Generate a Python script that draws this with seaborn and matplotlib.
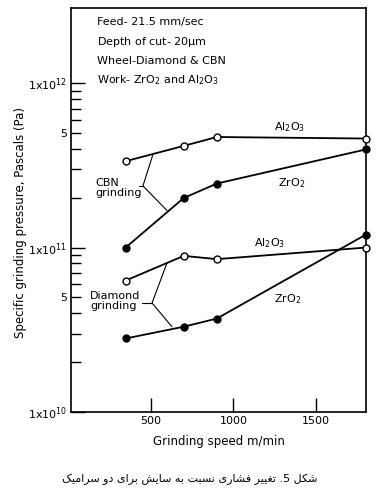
import matplotlib
matplotlib.use('Agg')
from matplotlib import pyplot as plt
from matplotlib.ticker import FixedLocator, FixedFormatter
import seaborn as sns
import pandas as pd

# Data
speed = [350, 700, 900, 1800]
cbn_al2o3 = [3.35e11, 4.15e11, 4.7e11, 4.6e11]
cbn_zro2 = [1.0e11, 2.0e11, 2.45e11, 3.95e11]
diamond_al2o3 = [6.3e10, 8.9e10, 8.5e10, 1.0e11]
diamond_zro2 = [2.8e10, 3.3e10, 3.7e10, 1.2e11]

y_major = [1e10, 1e11, 1e12]
y_major_labels = [r'$\mathregular{1x10^{10}}$', r'$\mathregular{1x10^{11}}$', r'$\mathregular{1x10^{12}}$']
y_minor = [2e10, 3e10, 4e10, 5e10, 6e10, 7e10, 8e10, 9e10,
           2e11, 3e11, 4e11, 5e11, 6e11, 7e11, 8e11, 9e11]
x_ticks = [500, 1000, 1500]

caption = 'شکل 5. تغییر فشاری نسبت به سایش برای دو سرامیک'

# presentation forms: isolated, final, initial, medial (None for right-joining)
FORMS = {
    'ا': ('\uFE8D', '\uFE8E', None, None),
    'د': ('\uFEA9', '\uFEAA', None, None),
    'ر': ('\uFEAD', '\uFEAE', None, None),
    'و': ('\uFEED', '\uFEEE', None, None),
    'ب': ('\uFE8F', '\uFE90', '\uFE91', '\uFE92'),
    'ت': ('\uFE95', '\uFE96', '\uFE97', '\uFE98'),
    'س': ('\uFEB1', '\uFEB2', '\uFEB3', '\uFEB4'),
    'ش': ('\uFEB5', '\uFEB6', '\uFEB7', '\uFEB8'),
    'غ': ('\uFECD', '\uFECE', '\uFECF', '\uFED0'),
    'ف': ('\uFED1', '\uFED2', '\uFED3', '\uFED4'),
    'ل': ('\uFEDD', '\uFEDE', '\uFEDF', '\uFEE0'),
    'م': ('\uFEE1', '\uFEE2', '\uFEE3', '\uFEE4'),
    'ن': ('\uFEE5', '\uFEE6', '\uFEE7', '\uFEE8'),
    'ه': ('\uFEE9', '\uFEEA', '\uFEEB', '\uFEEC'),
    'ی': ('\uFBFC', '\uFBFD', '\uFBFE', '\uFBFF'),
    'ک': ('\uFB8E', '\uFB8F', '\uFB90', '\uFB91'),
}


def shape_rtl(text):
    # simple Persian shaping + reversal, matplotlib has no bidi support
    out = []
    for i, ch in enumerate(text):
        if ch not in FORMS:
            out.append(ch)
            continue
        prev = text[i - 1] if i > 0 else ''
        nxt = text[i + 1] if i + 1 < len(text) else ''
        join_prev = prev in FORMS and FORMS[prev][2] is not None
        join_next = FORMS[ch][2] is not None and nxt in FORMS
        if join_prev and join_next:
            out.append(FORMS[ch][3])
        elif join_prev:
            out.append(FORMS[ch][1])
        elif join_next:
            out.append(FORMS[ch][2])
        else:
            out.append(FORMS[ch][0])
    return ''.join(out)[::-1]


def main():
    sns.set_style('ticks')
    plt.rcParams['font.family'] = ['DejaVu Sans']
    plt.rcParams['mathtext.fontset'] = 'dejavusans'
    plt.rcParams['text.color'] = 'black'
    plt.rcParams['axes.labelcolor'] = 'black'

    rows = []
    for wheel, work, vals in [('CBN', 'Al2O3', cbn_al2o3), ('CBN', 'ZrO2', cbn_zro2),
                              ('Diamond', 'Al2O3', diamond_al2o3), ('Diamond', 'ZrO2', diamond_zro2)]:
        for s, p in zip(speed, vals):
            rows.append({'speed': s, 'pressure': p, 'wheel': wheel, 'work': work})
    df = pd.DataFrame(rows)

    fig = plt.figure(figsize=(3.87, 4.92), dpi=100)
    ax = fig.add_axes([0.1835, 0.1626, 0.7622, 0.8211])

    for (wheel, work), grp in df.groupby(['wheel', 'work']):
        face = 'white' if work == 'Al2O3' else 'black'
        sns.lineplot(data=grp, x='speed', y='pressure', ax=ax, color='black',
                     linewidth=1.3, marker='o', markersize=5, markerfacecolor=face,
                     markeredgecolor='black', markeredgewidth=1.0, clip_on=False,
                     legend=False, zorder=3)

    ax.set_yscale('log')
    ax.set_xlim(20, 1800)
    ax.set_ylim(1e10, 2.86e12)

    ax.yaxis.set_major_locator(FixedLocator(y_major))
    ax.yaxis.set_major_formatter(FixedFormatter(y_major_labels))
    ax.yaxis.set_minor_locator(FixedLocator(y_minor))
    ax.yaxis.set_minor_formatter(FixedFormatter(['5' if str(v).startswith('5') else '' for v in y_minor]))
    ax.set_xticks(x_ticks)
    ax.set_xticklabels([str(v) for v in x_ticks])

    ax.tick_params(axis='both', which='major', direction='in', length=10, width=1.0,
                   labelsize=8, colors='black', pad=3)
    ax.tick_params(axis='y', which='minor', direction='in', length=7, width=1.0,
                   labelsize=8, colors='black', pad=3)
    for side in ['top', 'right', 'left', 'bottom']:
        ax.spines[side].set_visible(True)
        ax.spines[side].set_linewidth(1.2)
        ax.spines[side].set_color('black')

    ax.set_xlabel('Grinding speed m/min', fontsize=8.5, labelpad=6)
    ax.set_ylabel('Specific grinding pressure, Pascals (Pa)', fontsize=8.5)
    ax.yaxis.set_label_coords(-0.15, 0.468)

    # conditions block
    info = ['Feed- 21.5 mm/sec', r'Depth of cut- 20$\mathregular{\mu}$m',
            'Wheel-Diamond & CBN', r'Work- ZrO$_2$ and Al$_2$O$_3$']
    for i, line in enumerate(info):
        ax.text(0.088, 0.965 - i * 0.048, line, transform=ax.transAxes,
                fontsize=8, va='center', ha='left')

    # curve labels
    ax.text(1341, 5.4e11, r'Al$_2$O$_3$', fontsize=8, ha='center', va='center')
    ax.text(1350, 2.46e11, r'ZrO$_2$', fontsize=8, ha='center', va='center')
    ax.text(1221, 1.06e11, r'Al$_2$O$_3$', fontsize=8, ha='center', va='center')
    ax.text(1329, 4.87e10, r'ZrO$_2$', fontsize=8, ha='center', va='center')

    # wheel labels with leader lines
    ax.text(165, 2.3e11, 'CBN\ngrinding', fontsize=8, ha='left', va='center', linespacing=1.0)
    ax.plot([430, 454], [2.37e11, 2.37e11], color='black', lw=0.8)
    ax.plot([515, 454, 599], [3.70e11, 2.37e11, 1.68e11], color='black', lw=0.8)

    ax.text(135, 4.7e10, 'Diamond\ngrinding', fontsize=8, ha='left', va='center', linespacing=1.0)
    ax.plot([448, 509], [4.6e10, 4.6e10], color='black', lw=0.8)
    ax.plot([599, 509, 629], [8.05e10, 4.6e10, 3.3e10], color='black', lw=0.8)

    fig.text(0.49, 0.026, shape_rtl(caption), fontsize=8, ha='center', va='center')

    plt.savefig('out.png', dpi=100)


if __name__ == "__main__":
    main()
